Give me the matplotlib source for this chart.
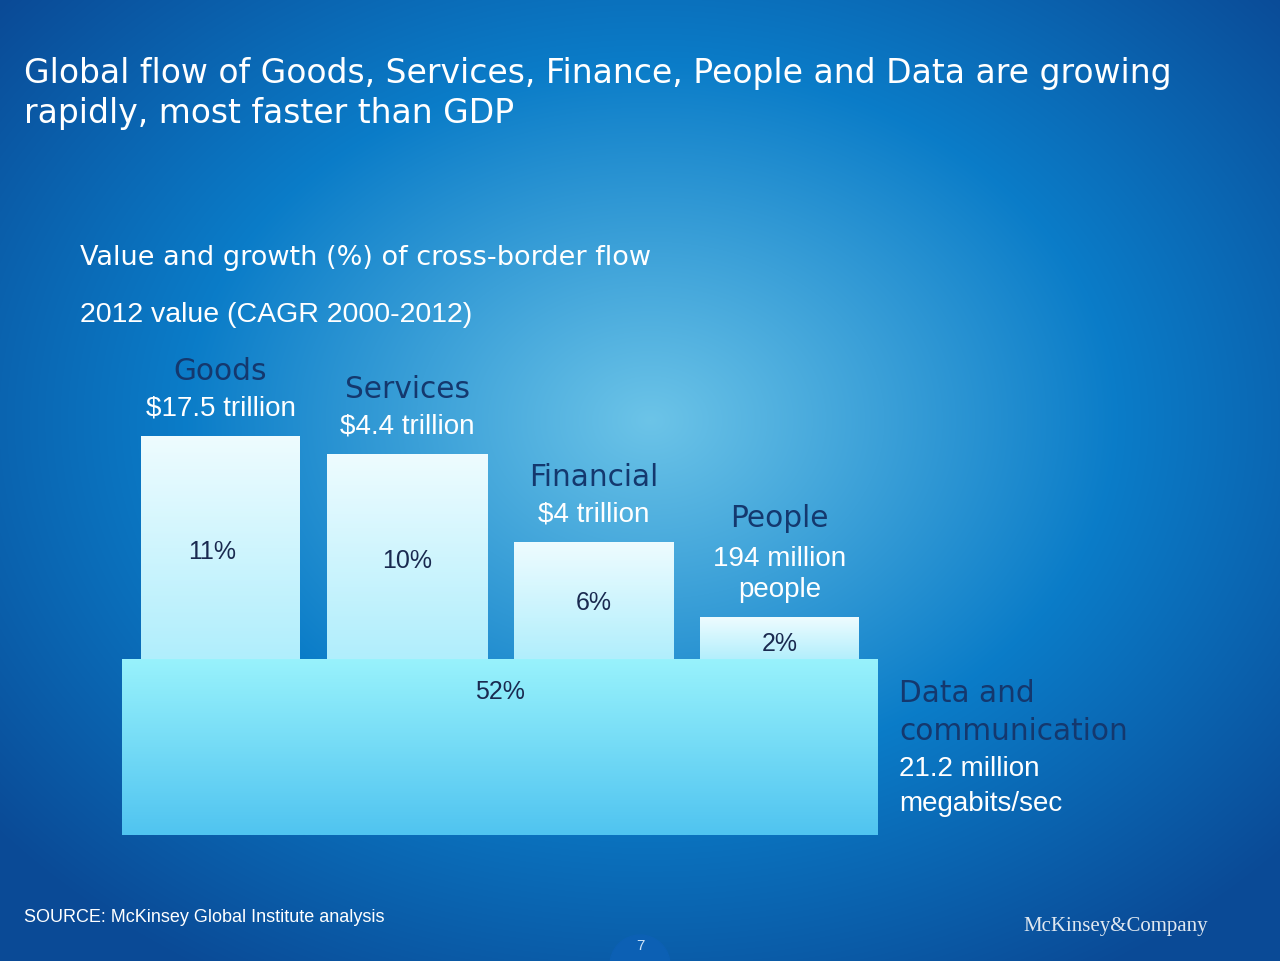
import numpy as np
import matplotlib
matplotlib.use("Agg")
import matplotlib.pyplot as plt
from matplotlib.patches import Rectangle

plt.rcParams['font.family'] = ['Liberation Sans', 'DejaVu Sans']
WIDE = ['DejaVu Sans']

categories = ['Goods', 'Services', 'Financial', 'People']
values = ['$17.5 trillion', '$4.4 trillion', '$4 trillion', '194 million\npeople']
growth = ['11%', '10%', '6%', '2%']
heights = [223, 205, 117, 42]          # bar height above the data block (px)
data_growth = '52%'
data_height = 176

W, H = 1280, 961
fig = plt.figure(figsize=(12.8, 9.61), dpi=100)
ax = fig.add_axes([0, 0, 1, 1])
ax.set_xlim(0, W)
ax.set_ylim(H, 0)
ax.axis('off')

# radial background
yy, xx = np.mgrid[0:H, 0:W]
r = np.sqrt(((xx - 650) / 850) ** 2 + ((yy - 420) / 650) ** 2)
r = np.clip(r, 0, 1)
c0 = np.array([0x6c, 0xc4, 0xe8]) / 255
c1 = np.array([0x0a, 0x7c, 0xc8]) / 255
c2 = np.array([0x0a, 0x4a, 0x96]) / 255
t = r[..., None]
bg = np.where(t < 0.55, c0 + (c1 - c0) * (t / 0.55), c1 + (c2 - c1) * ((t - 0.55) / 0.45))
ax.imshow(bg, extent=[0, W, H, 0], zorder=0)

base = 659
lefts = [141, 327, 514, 700]
widths = [159, 161, 160, 159]


def grad_rect(x0, y0, w, h, top, bot):
    g = np.linspace(0, 1, 100)[:, None, None]
    img = np.array(top) / 255 + (np.array(bot) / 255 - np.array(top) / 255) * g
    img = np.repeat(img, 2, axis=1)
    im = ax.imshow(img, extent=[x0, x0 + w, y0 + h, y0], zorder=2, aspect='auto')
    rect = Rectangle((x0, y0), w, h, transform=ax.transData, facecolor='none')
    ax.add_patch(rect)
    im.set_clip_path(rect)


bars = ax.bar(lefts, heights, width=widths, bottom=[base - h for h in heights],
              align='edge', color='none', zorder=1)
for b in bars:
    grad_rect(b.get_x(), b.get_y(), b.get_width(), b.get_height() + 2,
              (0xee, 0xfc, 0xff), (0xb0, 0xee, 0xfc))
grad_rect(122, base, 756, data_height, (0x98, 0xf2, 0xfc), (0x50, 0xc4, 0xf0))

navy = '#14386e'
for x, w, h, cat, val, g in zip(lefts, widths, heights, categories, values, growth):
    cx = x + w / 2
    top = base - h
    nl = val.count('\n')
    ax.text(cx, top - 14, val, ha='center', va='bottom', color='white', fontsize=20,
            linespacing=1.25, zorder=3)
    ax.text(cx, top - 16 - 34 * (nl + 1), cat, ha='center', va='bottom', color=navy,
            fontsize=21.3, family=WIDE, zorder=3)
    ax.text(cx - 8 if cat == 'Goods' else cx, top + h * 0.52 if h > 60 else top + 27, g,
            ha='center', va='center', color='#1a2a50', fontsize=18, zorder=3)
ax.text(500, 692, data_growth, ha='center', va='center', color='#1a2a50', fontsize=18, zorder=3)

ax.text(899, 693, 'Data and', ha='left', va='center', color=navy, fontsize=21.3, family=WIDE)
ax.text(899, 732, 'communication', ha='left', va='center', color=navy, fontsize=21.3, family=WIDE)
ax.text(899, 769, '21.2 million', ha='left', va='center', color='white', fontsize=20)
ax.text(899, 804, 'megabits/sec', ha='left', va='center', color='white', fontsize=20)

ax.text(24, 73, 'Global flow of Goods, Services, Finance, People and Data are growing',
        ha='left', va='center', color='white', fontsize=23.8, family=WIDE)
ax.text(24, 113, 'rapidly, most faster than GDP', ha='left', va='center', color='white',
        fontsize=23.8, family=WIDE)
ax.text(80, 258, 'Value and growth (%) of cross-border flow', ha='left', va='center',
        color='white', fontsize=19.5, family=WIDE)
ax.text(80, 315, '2012 value (CAGR 2000-2012)', ha='left', va='center', color='white', fontsize=20.5)
ax.text(24, 918, 'SOURCE: McKinsey Global Institute analysis', ha='left', va='center',
        color='white', fontsize=13)
ax.text(1208, 927, 'McKinsey&Company', ha='right', va='center', color='#e0e8f0',
        fontsize=15, family=['Liberation Serif', 'DejaVu Serif'])
ax.add_patch(plt.Circle((640, 965), 30, color='#0c60b4', zorder=1))
ax.text(640, 946, '7', ha='center', va='center', color='#cfe4f8', fontsize=11, zorder=3)

fig.savefig('out.png', dpi=100)
